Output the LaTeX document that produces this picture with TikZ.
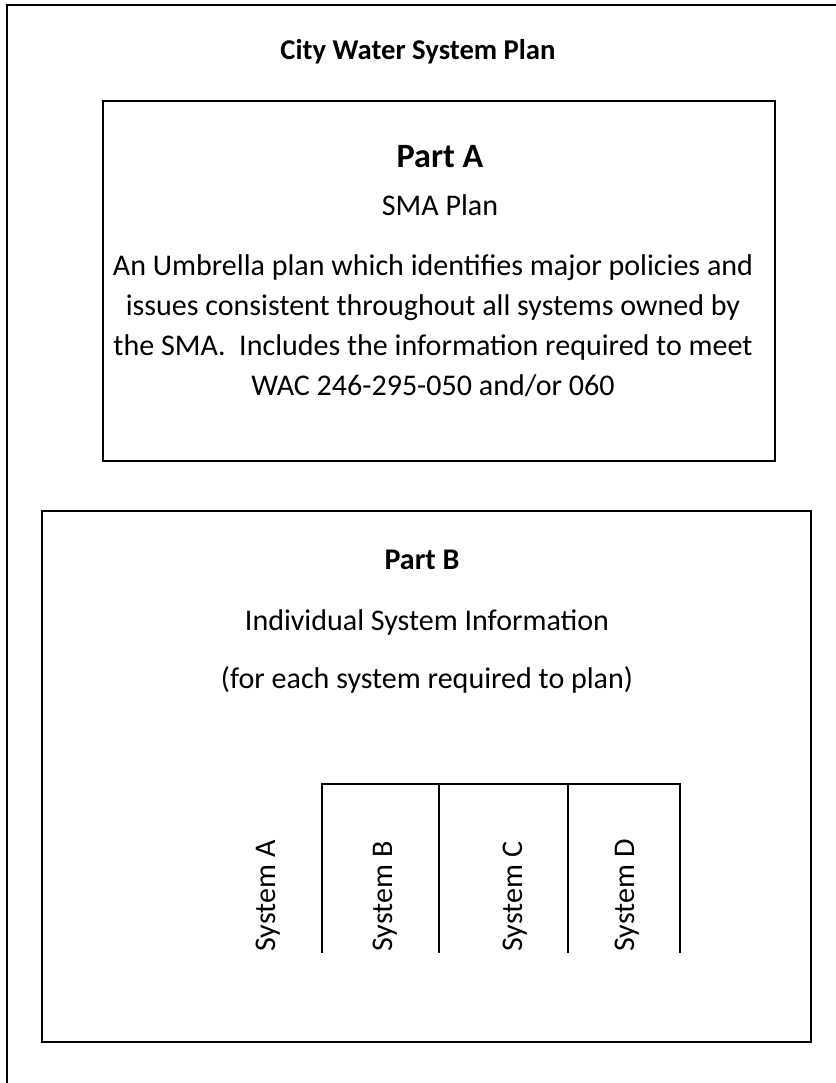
\documentclass[tikz,border=0pt]{standalone}
\usepackage{fontspec}
\setmainfont{Carlito}
\begin{document}
\begin{tikzpicture}[x=0.3663pt,y=-0.3663pt,
  box/.style={draw=black,line width=0.5pt},
  head/.style={font=\bfseries\fontsize{11}{13}\selectfont},
  toptitle/.style={font=\bfseries\fontsize{10.5}{13}\selectfont},
  bighead/.style={font=\bfseries\fontsize{12.5}{15}\selectfont},
  txt/.style={font=\fontsize{11}{14.65}\selectfont,align=center},
  sysname/.style={font=\fontsize{11}{13}\selectfont,rotate=90,anchor=west,inner sep=0pt}]
 \useasboundingbox[fill=white] (0,0) rectangle (836,1083);
 \draw[box] (7,1083)--(7,5)--(836,5);
 \draw[box] (103,101) rectangle (775,461);
 \draw[box] (42,511) rectangle (811,1042);
 \node[toptitle] (title) at (418,52) {City Water System Plan};
 \node[bighead] (parta) at (440,157) {Part A};
 \node[txt] (smaplan) at (440,205) {SMA Plan};
 \node[txt] (umbrella) at (433,326) {An Umbrella plan which identifies major policies and\\issues consistent throughout all systems owned by\\the SMA.\ \ Includes the information required to meet\\WAC 246-295-050 and/or 060};
 \node[head] (partb) at (422,560) {Part B};
 \node[txt] (indiv) at (427,622) {Individual System Information};
 \node[txt] (foreach) at (427,680) {(for each system required to plan)};
 \draw[box] (322,953)--(322,784)--(680,784)--(680,953);
 \foreach \x in {439,568}
  \draw[box] (\x,784)--(\x,953);
 \foreach \n/\x in {A/268,B/385,C/515,D/627}
  \node[sysname] (sys\n) at (\x,952) {System \n};
\end{tikzpicture}
\end{document}
